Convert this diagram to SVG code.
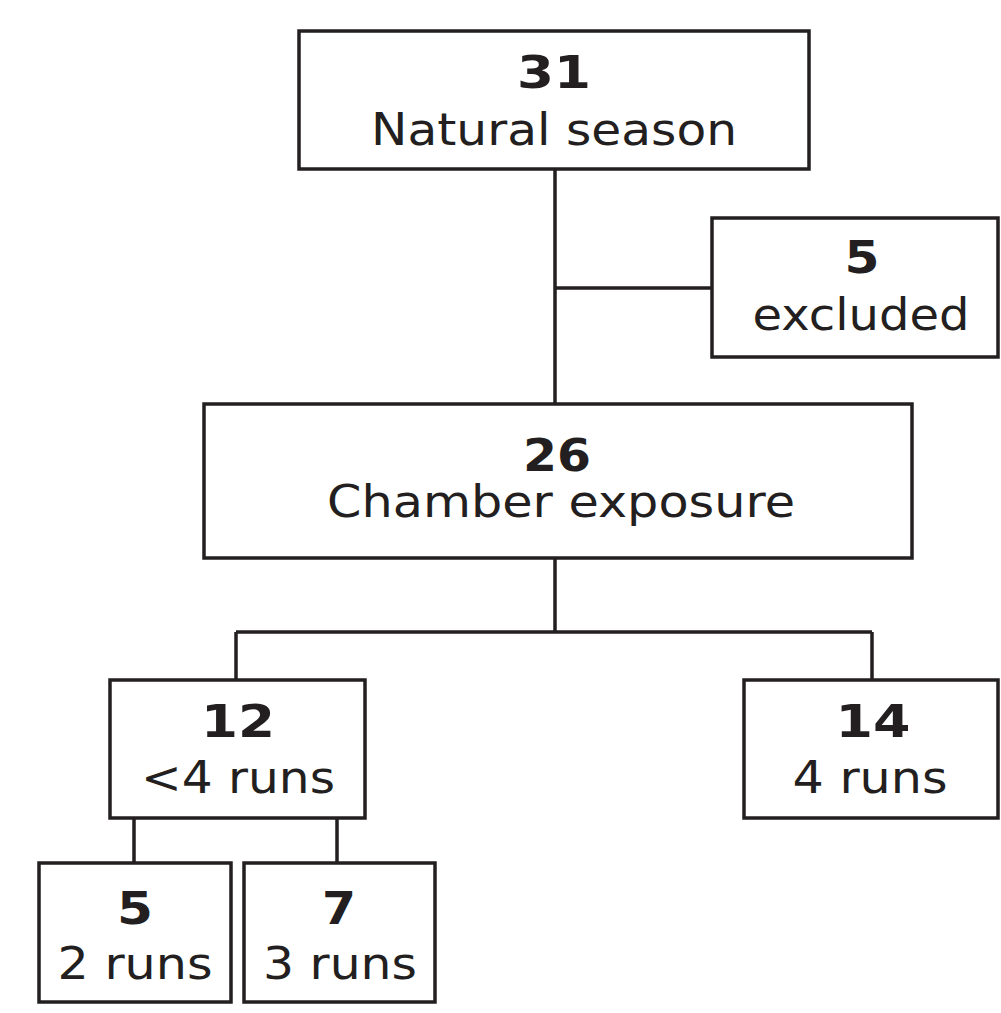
<svg xmlns="http://www.w3.org/2000/svg" width="1001" height="1013" viewBox="0 0 1001 1013">
<style>
.box{fill:#fff;stroke:#231f20;stroke-width:3.5}
.ln{fill:none;stroke:#231f20;stroke-width:3.5}
.n{font-family:"DejaVu Sans",Verdana,sans-serif;font-weight:bold;font-size:44px;fill:#231f20;text-anchor:middle}
.t{font-family:"DejaVu Sans",Verdana,sans-serif;font-size:44px;fill:#231f20;text-anchor:middle}
</style>
<rect width="1001" height="1013" fill="#fff"/>
<g id="connectors">
<path class="ln" d="M555 169V404M555 288H712M555 558V632M236 632H872M236 632V680M872 632V680M134 818V863M337 818V863"/>
</g>
<g id="n31">
<rect class="box" x="299" y="31" width="510" height="138"/>
<text class="n" x="554" y="88" textLength="74" lengthAdjust="spacingAndGlyphs">31</text>
<text class="t" x="554" y="145" textLength="366" lengthAdjust="spacingAndGlyphs">Natural season</text>
</g>
<g id="excluded">
<rect class="box" x="712" y="218" width="286" height="139"/>
<text class="n" x="862" y="273" textLength="35" lengthAdjust="spacingAndGlyphs">5</text>
<text class="t" x="861" y="330" textLength="217" lengthAdjust="spacingAndGlyphs">excluded</text>
</g>
<g id="n26">
<rect class="box" x="204" y="404" width="708" height="154"/>
<text class="n" x="557" y="471" textLength="68" lengthAdjust="spacingAndGlyphs">26</text>
<text class="t" x="561" y="517" textLength="468" lengthAdjust="spacingAndGlyphs">Chamber exposure</text>
</g>
<g id="n12">
<rect class="box" x="110" y="680" width="255" height="138"/>
<text class="n" x="238" y="737" textLength="74" lengthAdjust="spacingAndGlyphs">12</text>
<text class="t" x="238" y="793" textLength="194" lengthAdjust="spacingAndGlyphs">&lt;4 runs</text>
</g>
<g id="n14">
<rect class="box" x="744" y="680" width="254" height="138"/>
<text class="n" x="873" y="737" textLength="75" lengthAdjust="spacingAndGlyphs">14</text>
<text class="t" x="870" y="793" textLength="155" lengthAdjust="spacingAndGlyphs">4 runs</text>
</g>
<g id="n5">
<rect class="box" x="39" y="863" width="192" height="139"/>
<text class="n" x="135" y="924" textLength="36" lengthAdjust="spacingAndGlyphs">5</text>
<text class="t" x="135" y="979" textLength="155" lengthAdjust="spacingAndGlyphs">2 runs</text>
</g>
<g id="n7">
<rect class="box" x="244" y="863" width="191" height="139"/>
<text class="n" x="339" y="924" textLength="34" lengthAdjust="spacingAndGlyphs">7</text>
<text class="t" x="340" y="979" textLength="154" lengthAdjust="spacingAndGlyphs">3 runs</text>
</g>
</svg>
